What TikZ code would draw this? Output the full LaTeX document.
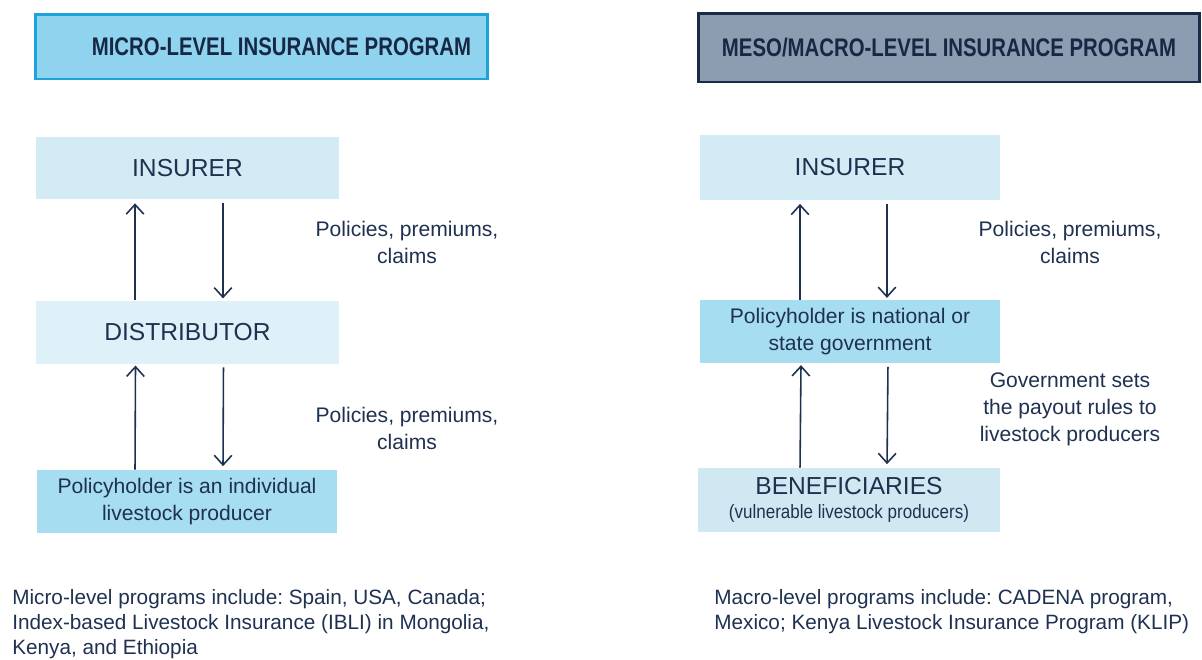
\documentclass[tikz,border=0pt]{standalone}
\usepackage{fontspec}
\setmainfont{Liberation Sans}
\usetikzlibrary{arrows.meta,positioning}
\frenchspacing

\definecolor{inkblue}{HTML}{1F3150}
\definecolor{headblue}{HTML}{172844}
\definecolor{microfill}{HTML}{90D3EE}
\definecolor{microedge}{HTML}{1CA3DC}
\definecolor{macrofill}{HTML}{8C9DB1}
\definecolor{macroedge}{HTML}{1A2B48}
\definecolor{paleblue}{HTML}{D3EBF4}
\definecolor{palerblue}{HTML}{DEF0F8}
\definecolor{midblue}{HTML}{A7DDF0}
\definecolor{benefblue}{HTML}{D0E8F2}

\begin{document}
\begin{tikzpicture}[x=0.02cm, y=-0.02cm, >={Straight Barb[length=5.5pt,width=10pt]},
  header/.style={draw, line width=1.7pt, inner sep=0pt, text=headblue,
    font=\fontsize{14.5}{17}\selectfont\bfseries},
  box/.style={inner sep=0pt, minimum width=6.05cm, minimum height=1.26cm,
    text=inkblue, align=center},
  bigtxt/.style={font=\fontsize{14}{16}\selectfont},
  smalltxt/.style={font=\fontsize{12}{15}\selectfont},
  lbl/.style={text=inkblue, align=center, inner sep=0pt,
    font=\fontsize{12}{15.4}\selectfont},
  note/.style={text=inkblue, align=left, inner sep=0pt,
    font=\fontsize{11.8}{14.2}\selectfont},
  flow/.style={->, draw=inkblue, line width=0.9pt}]

\useasboundingbox (0,0) rectangle (1202,659);

% Cabeceras
\node[header, fill=microfill, draw=microedge, minimum width=9.06cm, minimum height=1.3cm]
  (microhead) at (261.5,46.5) {\hspace*{0.8cm}\scalebox{0.8}[1]{MICRO-LEVEL INSURANCE PROGRAM}};
\node[header, fill=macrofill, draw=macroedge, minimum width=10.04cm, minimum height=1.38cm]
  (macrohead) at (949,47.5) {\scalebox{0.8}[1]{MESO/MACRO-LEVEL INSURANCE PROGRAM}};

% Columna micro
\node[box, bigtxt, fill=paleblue] (insL) at (187.5,168) {INSURER};
\node[box, bigtxt, fill=palerblue] (distL) at (187.5,332) {DISTRIBUTOR};
\node[box, smalltxt, fill=midblue, minimum width=6cm] (holderL) at (187,501.5)
  {Policyholder is an individual\\livestock producer};

% Columna macro
\node[box, bigtxt, fill=paleblue, minimum width=6cm, minimum height=1.3cm] (insR) at (850,167.5) {INSURER};
\node[box, smalltxt, fill=midblue, minimum width=6cm] (govR) at (850,331.5)
  {Policyholder is national or\\state government};
\node[box, fill=benefblue, minimum width=6.04cm, minimum height=1.28cm] (benR) at (849,500)
  {{\fontsize{14}{16}\selectfont BENEFICIARIES}\\[2pt]
   {\fontsize{11}{12}\selectfont\scalebox{0.88}[1]{(vulnerable livestock producers)}}};

% Flechas
\draw[flow, shorten >=2pt] ([xshift=-1.05cm]distL.north) -- ([xshift=-1.05cm]insL.south);
\draw[flow, shorten <=2pt, shorten >=1pt] ([xshift=0.71cm]insL.south) -- ([xshift=0.71cm]distL.north);
\draw[flow, shorten >=1pt] ([xshift=-1.04cm]holderL.north) -- ([xshift=-1.04cm]distL.south);
\draw[flow, shorten <=2pt, shorten >=2pt] ([xshift=0.72cm]distL.south) -- ([xshift=0.72cm]holderL.north);

\draw[flow, shorten >=2pt] ([xshift=-1.0cm]govR.north) -- ([xshift=-1.0cm]insR.south);
\draw[flow, shorten <=2pt, shorten >=1pt] ([xshift=0.74cm]insR.south) -- ([xshift=0.74cm]govR.north);
\draw[flow, shorten >=1pt] ([xshift=-0.98cm]benR.north) -- ([xshift=-0.98cm]govR.south);
\draw[flow, shorten <=2pt, shorten >=2pt] ([xshift=0.76cm]govR.south) -- ([xshift=0.76cm]benR.north);

% Etiquetas de flujo
\node[lbl] (flowL1) at (407,242) {Policies, premiums,\\claims};
\node[lbl] (flowL2) at (407,428) {Policies, premiums,\\claims};
\node[lbl] (flowR1) at (1070,242) {Policies, premiums,\\claims};
\node[lbl] (flowR2) at (1070,409) {Government sets\\the payout rules to\\livestock producers};

% Notas
\node[note, anchor=north west] (noteL) at (12,589)
  {Micro-level programs include: Spain, USA, Canada;\\
   Index-based Livestock Insurance (IBLI) in Mongolia,\\
   Kenya, and Ethiopia};
\node[note, anchor=north west] (noteR) at (714,589)
  {Macro-level programs include: CADENA program,\\
   Mexico; Kenya Livestock Insurance Program (KLIP)};

\end{tikzpicture}
\end{document}
